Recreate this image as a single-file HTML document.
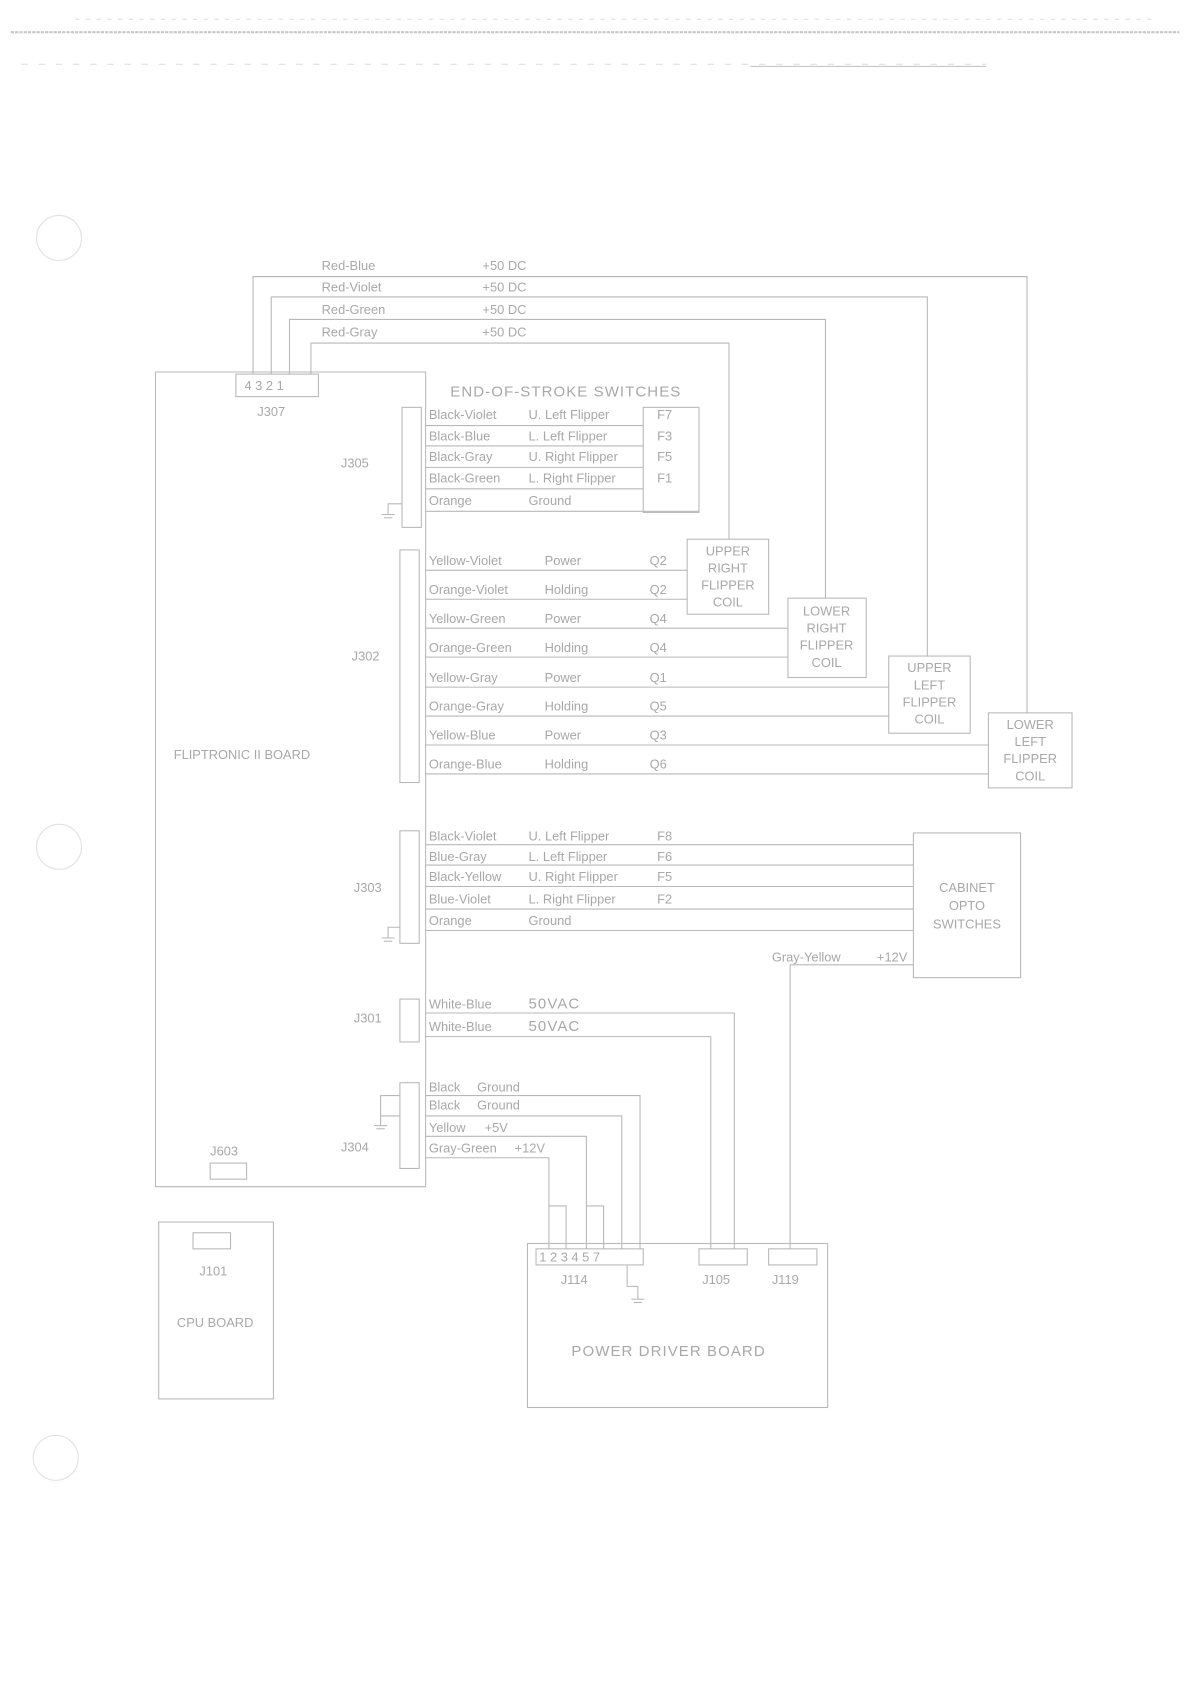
<!DOCTYPE html>
<html><head><meta charset="utf-8"><style>
html,body{margin:0;padding:0;background:#fff}
svg{display:block}
text{font-family:"Liberation Sans",sans-serif;fill:#a8a8a8;font-size:12px}
.t{font-size:14px;letter-spacing:1px}
</style></head><body>
<svg width="1190" height="1683" viewBox="0 0 1110 1570" xmlns="http://www.w3.org/2000/svg">
<g stroke="#b8b8b8" stroke-width="1" fill="none">
<line x1="10" y1="30" x2="1100" y2="30" stroke="#c8c8c8" stroke-width="2" stroke-dasharray="3 1"/>
<line x1="70" y1="18" x2="1080" y2="18" stroke="#e0e0e0" stroke-dasharray="4 6"/>
<line x1="20" y1="60" x2="920" y2="60" stroke="#e0e0e0" stroke-dasharray="6 10"/>
<line x1="700" y1="62" x2="920" y2="62" stroke="#c8c8c8"/>
<circle cx="55" cy="222" r="21" stroke="#e2e2e2"/>
<circle cx="55" cy="790" r="21" stroke="#e2e2e2"/>
<circle cx="52" cy="1360" r="21" stroke="#e2e2e2"/>
<!-- board -->
<path d="M145 1107 V347 H397 V1107 Z"/>
<rect x="220" y="349" width="77" height="21"/>
<!-- J307 wires -->
<path d="M236 349 V258 H958 V665"/>
<path d="M253 349 V277 H865 V612"/>
<path d="M270 349 V298 H770 V558"/>
<path d="M290 349 V320 H680 V503"/>
<!-- J305 -->
<rect x="375" y="380" width="18" height="112"/>
<rect x="600" y="380" width="52" height="98"/>
<line x1="397" y1="397" x2="600" y2="397"/><line x1="397" y1="416" x2="600" y2="416"/>
<line x1="397" y1="436" x2="600" y2="436"/><line x1="397" y1="456" x2="600" y2="456"/>
<line x1="397" y1="477" x2="652" y2="477"/>
<path d="M375 470 H362 V480"/><line x1="356" y1="480" x2="368" y2="480"/><line x1="358" y1="483" x2="366" y2="483"/>
<!-- J302 -->
<rect x="373" y="513" width="18" height="217"/>
<rect x="641" y="503" width="76" height="70"/>
<rect x="735" y="558" width="73" height="74"/>
<rect x="829" y="612" width="76" height="72"/>
<rect x="922" y="665" width="78" height="70"/>
<line x1="397" y1="532" x2="641" y2="532"/><line x1="397" y1="559" x2="641" y2="559"/>
<line x1="397" y1="586" x2="735" y2="586"/><line x1="397" y1="613" x2="735" y2="613"/>
<line x1="397" y1="641" x2="829" y2="641"/><line x1="397" y1="668" x2="829" y2="668"/>
<line x1="397" y1="695" x2="922" y2="695"/><line x1="397" y1="722" x2="922" y2="722"/>
<!-- J303 -->
<rect x="373" y="775" width="18" height="105"/>
<rect x="852" y="777" width="100" height="135"/>
<line x1="397" y1="788" x2="852" y2="788"/><line x1="397" y1="807" x2="852" y2="807"/>
<line x1="397" y1="827" x2="852" y2="827"/><line x1="397" y1="848" x2="852" y2="848"/>
<line x1="397" y1="868" x2="852" y2="868"/>
<path d="M373 865 H362 V875"/><line x1="356" y1="875" x2="368" y2="875"/><line x1="358" y1="878" x2="366" y2="878"/>
<path d="M852 900 H737 V1165"/>
<!-- J301 -->
<rect x="373" y="932" width="18" height="40"/>
<path d="M397 945 H685 V1165"/><path d="M397 967 H663 V1165"/>
<!-- J304 -->
<rect x="373" y="1010" width="18" height="80"/>
<path d="M397 1022 H597 V1165"/><path d="M397 1041 H580 V1165"/>
<path d="M397 1060 H547 V1165"/><path d="M397 1080 H512 V1165"/>
<path d="M512 1125 H528 V1165"/><path d="M547 1125 H563 V1165"/>
<path d="M373 1022 H355 V1050"/><path d="M373 1041 H355"/><line x1="349" y1="1050" x2="361" y2="1050"/><line x1="351" y1="1053" x2="359" y2="1053"/>
<rect x="196" y="1085" width="34" height="15"/>
<!-- CPU -->
<rect x="148" y="1140" width="107" height="165"/>
<rect x="180" y="1150" width="35" height="15"/>
<!-- power driver -->
<rect x="492" y="1160" width="280" height="153"/>
<rect x="500" y="1165" width="100" height="15"/>
<rect x="652" y="1165" width="45" height="15"/>
<rect x="717" y="1165" width="45" height="15"/>
<path d="M585 1180 V1200 H595 V1212"/><line x1="589" y1="1212" x2="601" y2="1212"/><line x1="591" y1="1215" x2="599" y2="1215"/>
</g>
<text x="300" y="252">Red-Blue</text><text x="450" y="252">+50 DC</text>
<text x="300" y="272">Red-Violet</text><text x="450" y="272">+50 DC</text>
<text x="300" y="293">Red-Green</text><text x="450" y="293">+50 DC</text>
<text x="300" y="314">Red-Gray</text><text x="450" y="314">+50 DC</text>
<text x="228" y="364">4 3 2 1</text><text x="240" y="388">J307</text>
<text class="t" x="420" y="370">END-OF-STROKE SWITCHES</text>
<text x="318" y="436">J305</text>
<text x="400" y="391">Black-Violet</text><text x="493" y="391">U. Left Flipper</text><text x="613" y="391">F7</text>
<text x="400" y="411">Black-Blue</text><text x="493" y="411">L. Left Flipper</text><text x="613" y="411">F3</text>
<text x="400" y="430">Black-Gray</text><text x="493" y="430">U. Right Flipper</text><text x="613" y="430">F5</text>
<text x="400" y="450">Black-Green</text><text x="493" y="450">L. Right Flipper</text><text x="613" y="450">F1</text>
<text x="400" y="471">Orange</text><text x="493" y="471">Ground</text>
<text x="400" y="527">Yellow-Violet</text><text x="508" y="527">Power</text><text x="606" y="527">Q2</text>
<text x="400" y="554">Orange-Violet</text><text x="508" y="554">Holding</text><text x="606" y="554">Q2</text>
<text x="400" y="581">Yellow-Green</text><text x="508" y="581">Power</text><text x="606" y="581">Q4</text>
<text x="400" y="608">Orange-Green</text><text x="508" y="608">Holding</text><text x="606" y="608">Q4</text>
<text x="400" y="636">Yellow-Gray</text><text x="508" y="636">Power</text><text x="606" y="636">Q1</text>
<text x="400" y="663">Orange-Gray</text><text x="508" y="663">Holding</text><text x="606" y="663">Q5</text>
<text x="400" y="690">Yellow-Blue</text><text x="508" y="690">Power</text><text x="606" y="690">Q3</text>
<text x="400" y="717">Orange-Blue</text><text x="508" y="717">Holding</text><text x="606" y="717">Q6</text>
<text x="328" y="616">J302</text>
<text x="162" y="708">FLIPTRONIC II BOARD</text>
<g text-anchor="middle">
<text x="679" y="518">UPPER</text><text x="679" y="534">RIGHT</text><text x="679" y="550">FLIPPER</text><text x="679" y="566">COIL</text>
<text x="771" y="574">LOWER</text><text x="771" y="590">RIGHT</text><text x="771" y="606">FLIPPER</text><text x="771" y="622">COIL</text>
<text x="867" y="627">UPPER</text><text x="867" y="643">LEFT</text><text x="867" y="659">FLIPPER</text><text x="867" y="675">COIL</text>
<text x="961" y="680">LOWER</text><text x="961" y="696">LEFT</text><text x="961" y="712">FLIPPER</text><text x="961" y="728">COIL</text>
<text x="902" y="832">CABINET</text><text x="902" y="849">OPTO</text><text x="902" y="866">SWITCHES</text>
</g>
<text x="330" y="832">J303</text>
<text x="400" y="784">Black-Violet</text><text x="493" y="784">U. Left Flipper</text><text x="613" y="784">F8</text>
<text x="400" y="803">Blue-Gray</text><text x="493" y="803">L. Left Flipper</text><text x="613" y="803">F6</text>
<text x="400" y="822">Black-Yellow</text><text x="493" y="822">U. Right Flipper</text><text x="613" y="822">F5</text>
<text x="400" y="843">Blue-Violet</text><text x="493" y="843">L. Right Flipper</text><text x="613" y="843">F2</text>
<text x="400" y="863">Orange</text><text x="493" y="863">Ground</text>
<text x="720" y="897">Gray-Yellow</text><text x="818" y="897">+12V</text>
<text x="330" y="954">J301</text>
<text x="400" y="941">White-Blue</text><text class="t" x="493" y="941">50VAC</text>
<text x="400" y="962">White-Blue</text><text class="t" x="493" y="962">50VAC</text>
<text x="318" y="1074">J304</text><text x="196" y="1078">J603</text>
<text x="400" y="1018">Black</text><text x="445" y="1018">Ground</text>
<text x="400" y="1035">Black</text><text x="445" y="1035">Ground</text>
<text x="400" y="1056">Yellow</text><text x="452" y="1056">+5V</text>
<text x="400" y="1075">Gray-Green</text><text x="480" y="1075">+12V</text>
<text x="186" y="1190">J101</text>
<text x="165" y="1238">CPU BOARD</text>
<text x="503" y="1177">1 2 3 4 5 7</text>
<text x="523" y="1198">J114</text><text x="655" y="1198">J105</text><text x="720" y="1198">J119</text>
<text class="t" x="533" y="1265">POWER DRIVER BOARD</text>
</svg>
</body></html>
